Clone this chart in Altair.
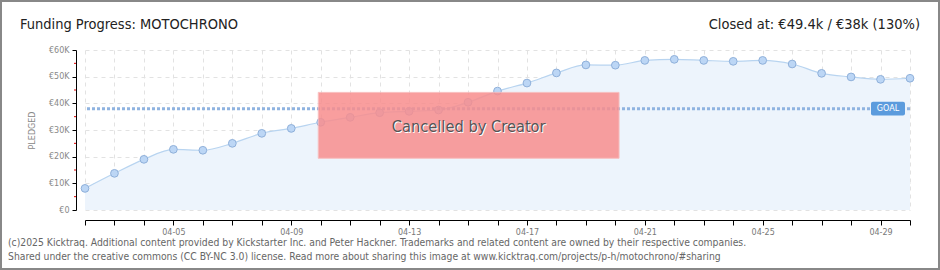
import altair as alt
import pandas as pd

dates = ["2025-04-%02d" % d for d in range(2, 31)]
pledged = [8100, 13750, 19000, 22750, 22400, 25000, 28750, 30600, 32900, 34750,
           36500, 37000, 37500, 40400, 44600, 47600, 51400, 54400, 54300, 56100,
           56500, 56100, 55750, 56100, 54750, 51250, 49900, 49000, 49400]
goal = 38000
y_ticks = [0, 10000, 20000, 30000, 40000, 50000, 60000]
y_minor = [5000, 15000, 25000, 35000, 45000, 55000]
x_labels = ["04-05", "04-09", "04-13", "04-17", "04-21", "04-25", "04-29"]
cancel_box = {"x1": "2025-04-09T22:00:00Z", "x2": "2025-04-20T03:00:00Z", "y1": 19400, "y2": 44100,
              "xm": "2025-04-15T00:30:00Z", "ym": 31300, "label": "Cancelled by Creator"}

title_left = "Funding Progress: MOTOCHRONO"
title_right = "Closed at:  €49.4k /  €38k (130%)"
footer1 = "(c)2025 Kicktraq. Additional content provided by Kickstarter Inc. and Peter Hackner. Trademarks and related content are owned by their respective companies."
footer2 = "Shared under the creative commons (CC BY-NC 3.0) license. Read more about sharing this image at www.kicktraq.com/projects/p-h/motochrono/#sharing"

df = pd.DataFrame({"date": [d + "T00:00:00Z" for d in dates], "pledged": pledged})

FONT = "'DejaVu Sans Condensed', 'Roboto Condensed', Roboto, sans-serif"
xscale = alt.Scale(type="utc", domain=[dates[0] + "T00:00:00Z", dates[-1] + "T00:00:00Z"], nice=False)
yscale = alt.Scale(domain=[0, 60000], nice=False)

label_expr = ("indexof(%s, utcFormat(toDate(datum.value), '%%m-%%d')) >= 0 ? "
              "utcFormat(toDate(datum.value), '%%m-%%d') : ''" % str(x_labels))

x_axis = alt.Axis(values=[alt.DateTime(year=2025, month=4, date=d, utc=True) for d in range(2, 31)],
                  labelExpr=label_expr, title=None,
                  offset=10, domainColor="#000", tickColor="#000", tickSize=5,
                  labelColor="#777", labelFont="DejaVu Sans", labelFontSize=8,
                  labelOverlap=False, labelFlush=False, labelBound=False,
                  labelPadding=3, grid=True, gridColor="#e2e2e2", gridDash=[4, 4])
y_axis = alt.Axis(values=y_ticks,
                  labelExpr="datum.value == 0 ? '€0' : '€' + (datum.value/1000) + 'K'",
                  title="PLEDGED", titleFont="DejaVu Sans", titleFontSize=8,
                  titleFontWeight="normal", titleColor="#888", titlePadding=12,
                  offset=9, domainColor="#000", tickColor="#000", tickSize=4,
                  labelColor="#888", labelFont="DejaVu Sans", labelFontSize=8,
                  labelOverlap=False,
                  labelPadding=3, grid=True, gridColor="#e2e2e2", gridDash=[4, 4])

def X(f):
    return alt.X(f, scale=xscale, axis=x_axis)

def Y(f):
    return alt.Y(f, scale=yscale, axis=y_axis)

base = alt.Chart(df)

area = base.mark_area(color="#edf4fc", interpolate="monotone").encode(x=X("date:T"), y=Y("pledged:Q"))
line = base.mark_line(color="#b8d4f0", strokeWidth=1.2, interpolate="monotone").encode(
    x=X("date:T"), y=Y("pledged:Q"))
points = base.mark_circle(size=60, color="#bcd6f5", opacity=1, stroke="#8fb0da", strokeWidth=1).encode(
    x=X("date:T"), y=Y("pledged:Q"))

minor_df = pd.DataFrame({"v": y_minor})
minor = alt.Chart(minor_df).mark_rule(color="#e00000", strokeWidth=1).encode(
    y=Y("v:Q"), x=alt.value(-11), x2=alt.value(-9))

goal_rule = alt.Chart(pd.DataFrame({"g": [goal]})).mark_rule(
    color="#8fb3e0", strokeWidth=3, strokeDash=[3, 2]).encode(y=Y("g:Q"))

goal_box = alt.Chart(pd.DataFrame({"a": [goal + 2600], "b": [goal - 2600]})).mark_rect(
    color="#5b9bdd", cornerRadius=2).encode(
    y=Y("a:Q"), y2="b:Q", x=alt.value(786), x2=alt.value(820))
goal_text = alt.Chart(pd.DataFrame({"g": [goal], "t": ["GOAL"]})).mark_text(
    color="white", font="DejaVu Sans", fontSize=8, align="center", baseline="middle").encode(
    y=Y("g:Q"), x=alt.value(803), text="t:N")

cdf = pd.DataFrame([cancel_box])
cbox = alt.Chart(cdf).mark_rect(color="#f88e8e", opacity=0.85, stroke="#f9b5b5", strokeWidth=1).encode(
    x=X("x1:T"), x2="x2:T", y=Y("y1:Q"), y2="y2:Q")
cshadow = alt.Chart(cdf).mark_text(color="white", font=FONT, fontSize=16.3, dx=1, dy=1).encode(
    x=X("xm:T"), y=Y("ym:Q"), text="label:N")
ctext = alt.Chart(cdf).mark_text(color="#555555", font=FONT, fontSize=16.3).encode(
    x=X("xm:T"), y=Y("ym:Q"), text="label:N")

def txt(t, x, y, size, color, align="left", font=FONT):
    return alt.Chart(pd.DataFrame({"t": [t]})).mark_text(
        font=font, fontSize=size, color=color, align=align, baseline="middle").encode(
        x=alt.value(x), y=alt.value(y), text="t:N")

t1 = txt(title_left, -65, -25, 14.5, "#222")
t2 = txt(title_right, 835, -25, 14.5, "#222", align="right")
f1 = txt(footer1, -77, 193, 10.3, "#666")
f2 = txt(footer2, -77, 207, 10.3, "#666")

border = alt.Chart(pd.DataFrame({"a": [0]})).mark_rect(
    fill=None, filled=False, stroke="#888", strokeWidth=2).encode(
    x=alt.value(-84), x2=alt.value(854), y=alt.value(-49), y2=alt.value(219))

chart = alt.layer(area, line, points, minor, goal_rule, goal_box, goal_text,
                  cbox, cshadow, ctext, t1, t2, f1, f2, border).properties(
    width=825, height=160,
    autosize=alt.AutoSizeParams(type="none"),
    padding={"left": 85, "top": 50, "right": 30, "bottom": 60},
    background="white",
).configure_view(stroke=None)

chart.save("out.html", embed_options={"renderer": "svg", "actions": False})
